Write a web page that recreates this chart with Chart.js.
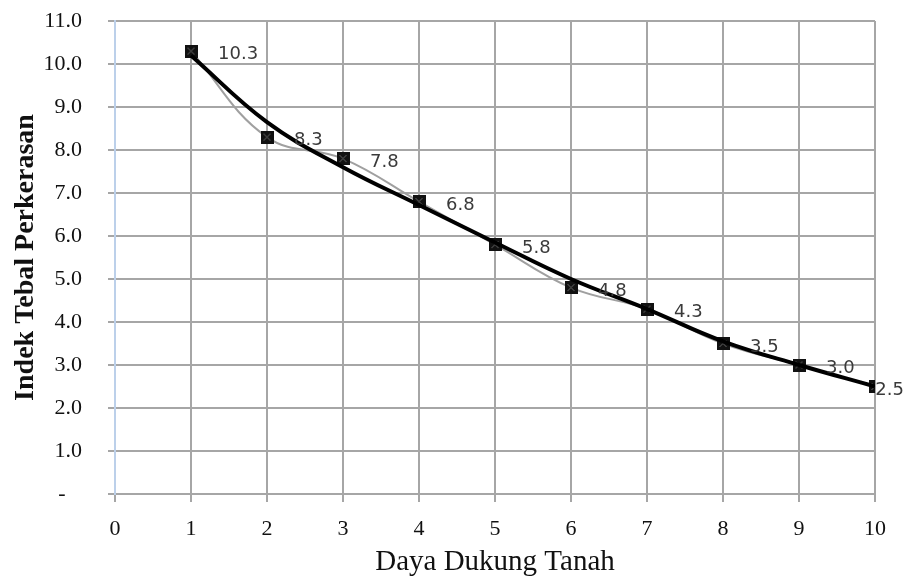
<!DOCTYPE html>
<html>
<head>
<meta charset="utf-8">
<script src="https://cdn.jsdelivr.net/npm/chart.js@4/dist/chart.umd.min.js"></script>
<style>
  html, body { margin: 0; padding: 0; background: #fff; }
  #wrap { width: 906px; height: 582px; }
</style>
</head>
<body>
<div id="wrap"><canvas id="chartCanvas"></canvas></div>
<script>
// values
const dayaDukung = [1, 2, 3, 4, 5, 6, 7, 8, 9, 10];
const indekTebal = [10.3, 8.3, 7.8, 6.8, 5.8, 4.8, 4.3, 3.5, 3.0, 2.5];
const trendValues = [10.2, 8.65, 7.6, 6.72, 5.85, 5.0, 4.3, 3.55, 3.0, 2.5];
const yTicks = [0, 1, 2, 3, 4, 5, 6, 7, 8, 9, 10, 11];
const xTicks = [0, 1, 2, 3, 4, 5, 6, 7, 8, 9, 10];

const gridGray = '#a6a6a6';

// square marker with a small cross inside
function makeMarker() {
  const c = document.createElement('canvas');
  c.width = 13; c.height = 13;
  const g = c.getContext('2d');
  g.fillStyle = '#111';
  g.fillRect(0, 0, 13, 13);
  g.strokeStyle = '#666';
  g.lineWidth = 1;
  g.beginPath();
  g.moveTo(3, 3); g.lineTo(10, 10);
  g.moveTo(10, 3); g.lineTo(3, 10);
  g.stroke();
  return c;
}

// value labels to the right of each point
const valueLabels = {
  id: 'valueLabels',
  afterDatasetsDraw(chart) {
    const meta = chart.getDatasetMeta(1);
    const ctx = chart.ctx;
    ctx.save();
    ctx.font = '18px "DejaVu Sans", sans-serif';
    ctx.fillStyle = '#3a3a3a';
    ctx.textAlign = 'left';
    ctx.textBaseline = 'middle';
    meta.data.forEach((pt, i) => {
      const txt = indekTebal[i].toFixed(1);
      const w = ctx.measureText(txt).width;
      let x = pt.x + 27;
      if (x + w > chart.width - 2) x = chart.width - 2 - w;
      ctx.fillText(txt, x, pt.y + 3.5);
    });
    ctx.restore();
  }
};

const pointsData = dayaDukung.map((x, i) => ({ x: x, y: indekTebal[i] }));
const trendData = dayaDukung.map((x, i) => ({ x: x, y: trendValues[i] }));

new Chart(document.getElementById('chartCanvas'), {
  type: 'line',
  data: {
    datasets: [
      {
        label: 'Trend',
        data: trendData,
        borderColor: '#000',
        borderWidth: 4,
        pointRadius: 0,
        tension: 0.4,
        fill: false,
        order: 0
      },
      {
        label: 'Indek Tebal Perkerasan',
        data: pointsData,
        borderColor: '#a0a0a0',
        borderWidth: 2,
        tension: 0.4,
        pointStyle: makeMarker(),
        pointRadius: 7,
        fill: false,
        order: 1
      }
    ]
  },
  options: {
    responsive: true,
    maintainAspectRatio: false,
    animation: false,
    layout: { padding: { top: 21, right: 31, left: 0, bottom: 0 } },
    plugins: {
      legend: { display: false },
      tooltip: { enabled: false }
    },
    scales: {
      x: {
        type: 'linear',
        min: 0,
        max: 10,
        afterBuildTicks: s => { s.ticks = xTicks.map(v => ({ value: v })); },
        afterFit: s => { s.height = 88; s.paddingLeft = 0; s.paddingRight = 0; },
        grid: { color: gridGray, lineWidth: 2, tickLength: 8, tickColor: gridGray },
        border: { color: gridGray, width: 2 },
        ticks: {
          color: '#111',
          padding: 14,
          maxRotation: 0,
          font: { family: '"Liberation Serif", serif', size: 22 }
        },
        title: {
          display: true,
          text: 'Daya Dukung Tanah',
          color: '#111',
          padding: { top: 0, bottom: 2 },
          font: { family: '"Liberation Serif", serif', size: 29 }
        }
      },
      y: {
        type: 'linear',
        min: 0,
        max: 11,
        afterBuildTicks: s => { s.ticks = yTicks.map(v => ({ value: v })); },
        afterFit: s => { s.width = 115; s.paddingTop = 0; s.paddingBottom = 0; },
        grid: { color: gridGray, lineWidth: 2, tickLength: 7, tickColor: gridGray },
        border: { color: '#bcd0ea', width: 2 },
        ticks: {
          color: '#111',
          padding: 26,
          font: { family: '"Liberation Serif", serif', size: 22 },
          callback: v => (v === 0 ? '-   ' : v.toFixed(1))
        },
        title: {
          display: true,
          text: 'Indek Tebal Perkerasan',
          color: '#111',
          padding: { top: 9, bottom: 0 },
          font: { family: '"Liberation Serif", serif', size: 28, weight: 'bold' }
        }
      }
    }
  },
  plugins: [valueLabels]
});
</script>
</body>
</html>
